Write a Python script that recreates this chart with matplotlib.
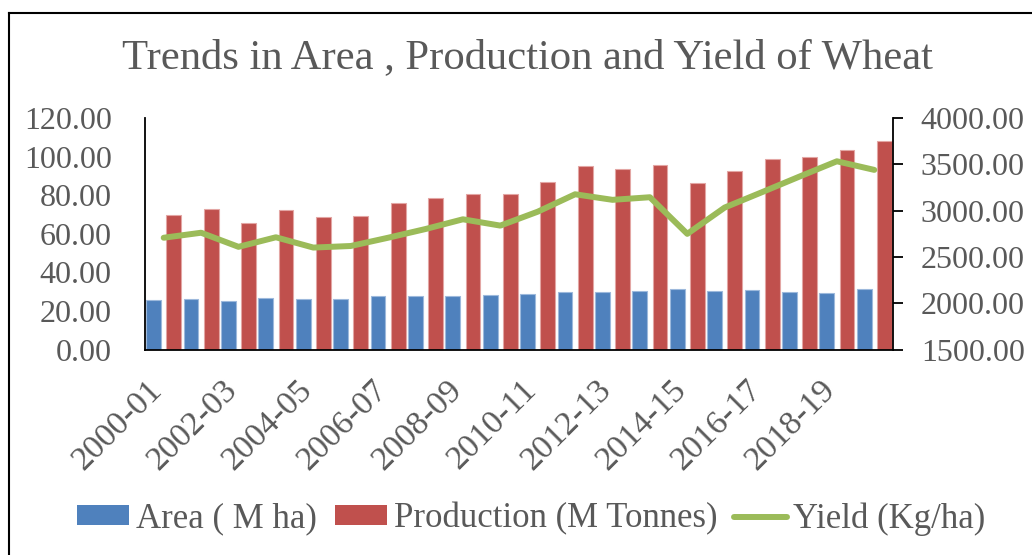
import matplotlib.pyplot as plt
import numpy as np
from matplotlib.patches import Patch
from matplotlib.lines import Line2D
from matplotlib.transforms import ScaledTranslation

# data
years = ["2000-01", "2001-02", "2002-03", "2003-04", "2004-05", "2005-06", "2006-07",
         "2007-08", "2008-09", "2009-10", "2010-11", "2011-12", "2012-13", "2013-14",
         "2014-15", "2015-16", "2016-17", "2017-18", "2018-19", "2019-20"]
area = [25.73, 26.34, 25.20, 26.60, 26.38, 26.48, 27.99, 28.04, 27.75, 28.46,
        29.07, 29.86, 30.00, 30.47, 31.47, 30.42, 30.79, 29.65, 29.32, 31.36]
production = [69.68, 72.77, 65.76, 72.16, 68.64, 69.35, 75.81, 78.57, 80.68, 80.80,
              86.87, 94.88, 93.51, 95.85, 86.53, 92.29, 98.51, 99.87, 103.60, 107.86]
yield_kg = [2708, 2762, 2610, 2713, 2602, 2619, 2708, 2802, 2907, 2839,
            2989, 3177, 3117, 3145, 2750, 3034, 3200, 3368, 3533, 3440]

plt.rcParams["font.family"] = ["Liberation Serif", "DejaVu Serif"]
txt_color = "#595959"
c_blue = "#4F81BD"
c_red = "#C0504D"
c_green = "#9BBB59"

fig = plt.figure(figsize=(10.32, 5.55), dpi=100)
ax = fig.add_axes([0.1405, 0.3699, 0.7248, 0.4175])
ax2 = ax.twinx()

x = np.arange(len(years))
ax.bar(x - 0.27, area, width=0.4, color=c_blue, edgecolor="#9DB9DC", linewidth=0.8)
ax.bar(x + 0.27, production, width=0.4, color=c_red, edgecolor="#E3A6A4", linewidth=0.8)
ax2.plot(x, yield_kg, color=c_green, linewidth=4.3, solid_capstyle="round")

ax.set_xlim(-0.5, len(years) - 0.5)
ax.set_ylim(0, 120)
ax.set_yticks(np.arange(0, 121, 20))
ax.set_yticklabels([f"{v:.2f}" for v in np.arange(0, 121, 20)])
ax2.set_ylim(1500, 4000)
ax2.set_yticks(np.arange(1500, 4001, 500))
ax2.set_yticklabels([f"{v:.2f}" for v in np.arange(1500, 4001, 500)])

ax.set_xticks(x[::2])
ax.set_xticklabels(years[::2], rotation=45, ha="right", va="baseline",
                   rotation_mode="anchor")
shift = ScaledTranslation(5 / 100, 0, fig.dpi_scale_trans)
for lab in ax.get_xticklabels():
    lab.set_transform(lab.get_transform() + shift)

for a in (ax, ax2):
    a.spines["top"].set_visible(False)
    for s in ("left", "right", "bottom"):
        a.spines[s].set_linewidth(1.3)
        a.spines[s].set_color("black")
ax.spines["right"].set_visible(False)
ax2.spines["left"].set_visible(False)
ax2.spines["bottom"].set_visible(False)

ax.tick_params(axis="y", length=0, pad=24, labelsize=23, labelcolor=txt_color)
ax.tick_params(axis="x", length=0, pad=30, labelsize=24.5, labelcolor=txt_color)
ax2.tick_params(axis="y", length=7, width=1.3, pad=13, labelsize=23,
                labelcolor=txt_color, direction="out")

fig.text(0.511, 0.877, "Trends in Area , Production and Yield of Wheat",
         ha="center", va="baseline", fontsize=30.7, color=txt_color)

handles = [Patch(facecolor=c_blue, edgecolor="none"),
           Patch(facecolor=c_red, edgecolor="none"),
           Line2D([0], [0], color=c_green, linewidth=4.3, solid_capstyle="round")]
labels = ["Area ( M ha)", "Production (M Tonnes)", "Yield (Kg/ha)"]
fig.legend(handles, labels, loc="center", bbox_to_anchor=(0.515, 0.065), ncol=3,
           frameon=False, fontsize=25, labelcolor=txt_color, handlelength=1.5,
           handleheight=0.5, handletextpad=0.2, columnspacing=0.5)

# outer chart border (only top and left visible in the crop)
fig.add_artist(Line2D([9 / 1032, 1], [1 - 13 / 555, 1 - 13 / 555], color="black",
                      linewidth=1.5, transform=fig.transFigure))
fig.add_artist(Line2D([9 / 1032, 9 / 1032], [0, 1 - 13 / 555], color="black",
                      linewidth=1.5, transform=fig.transFigure))

plt.savefig("out.png", dpi=100)
